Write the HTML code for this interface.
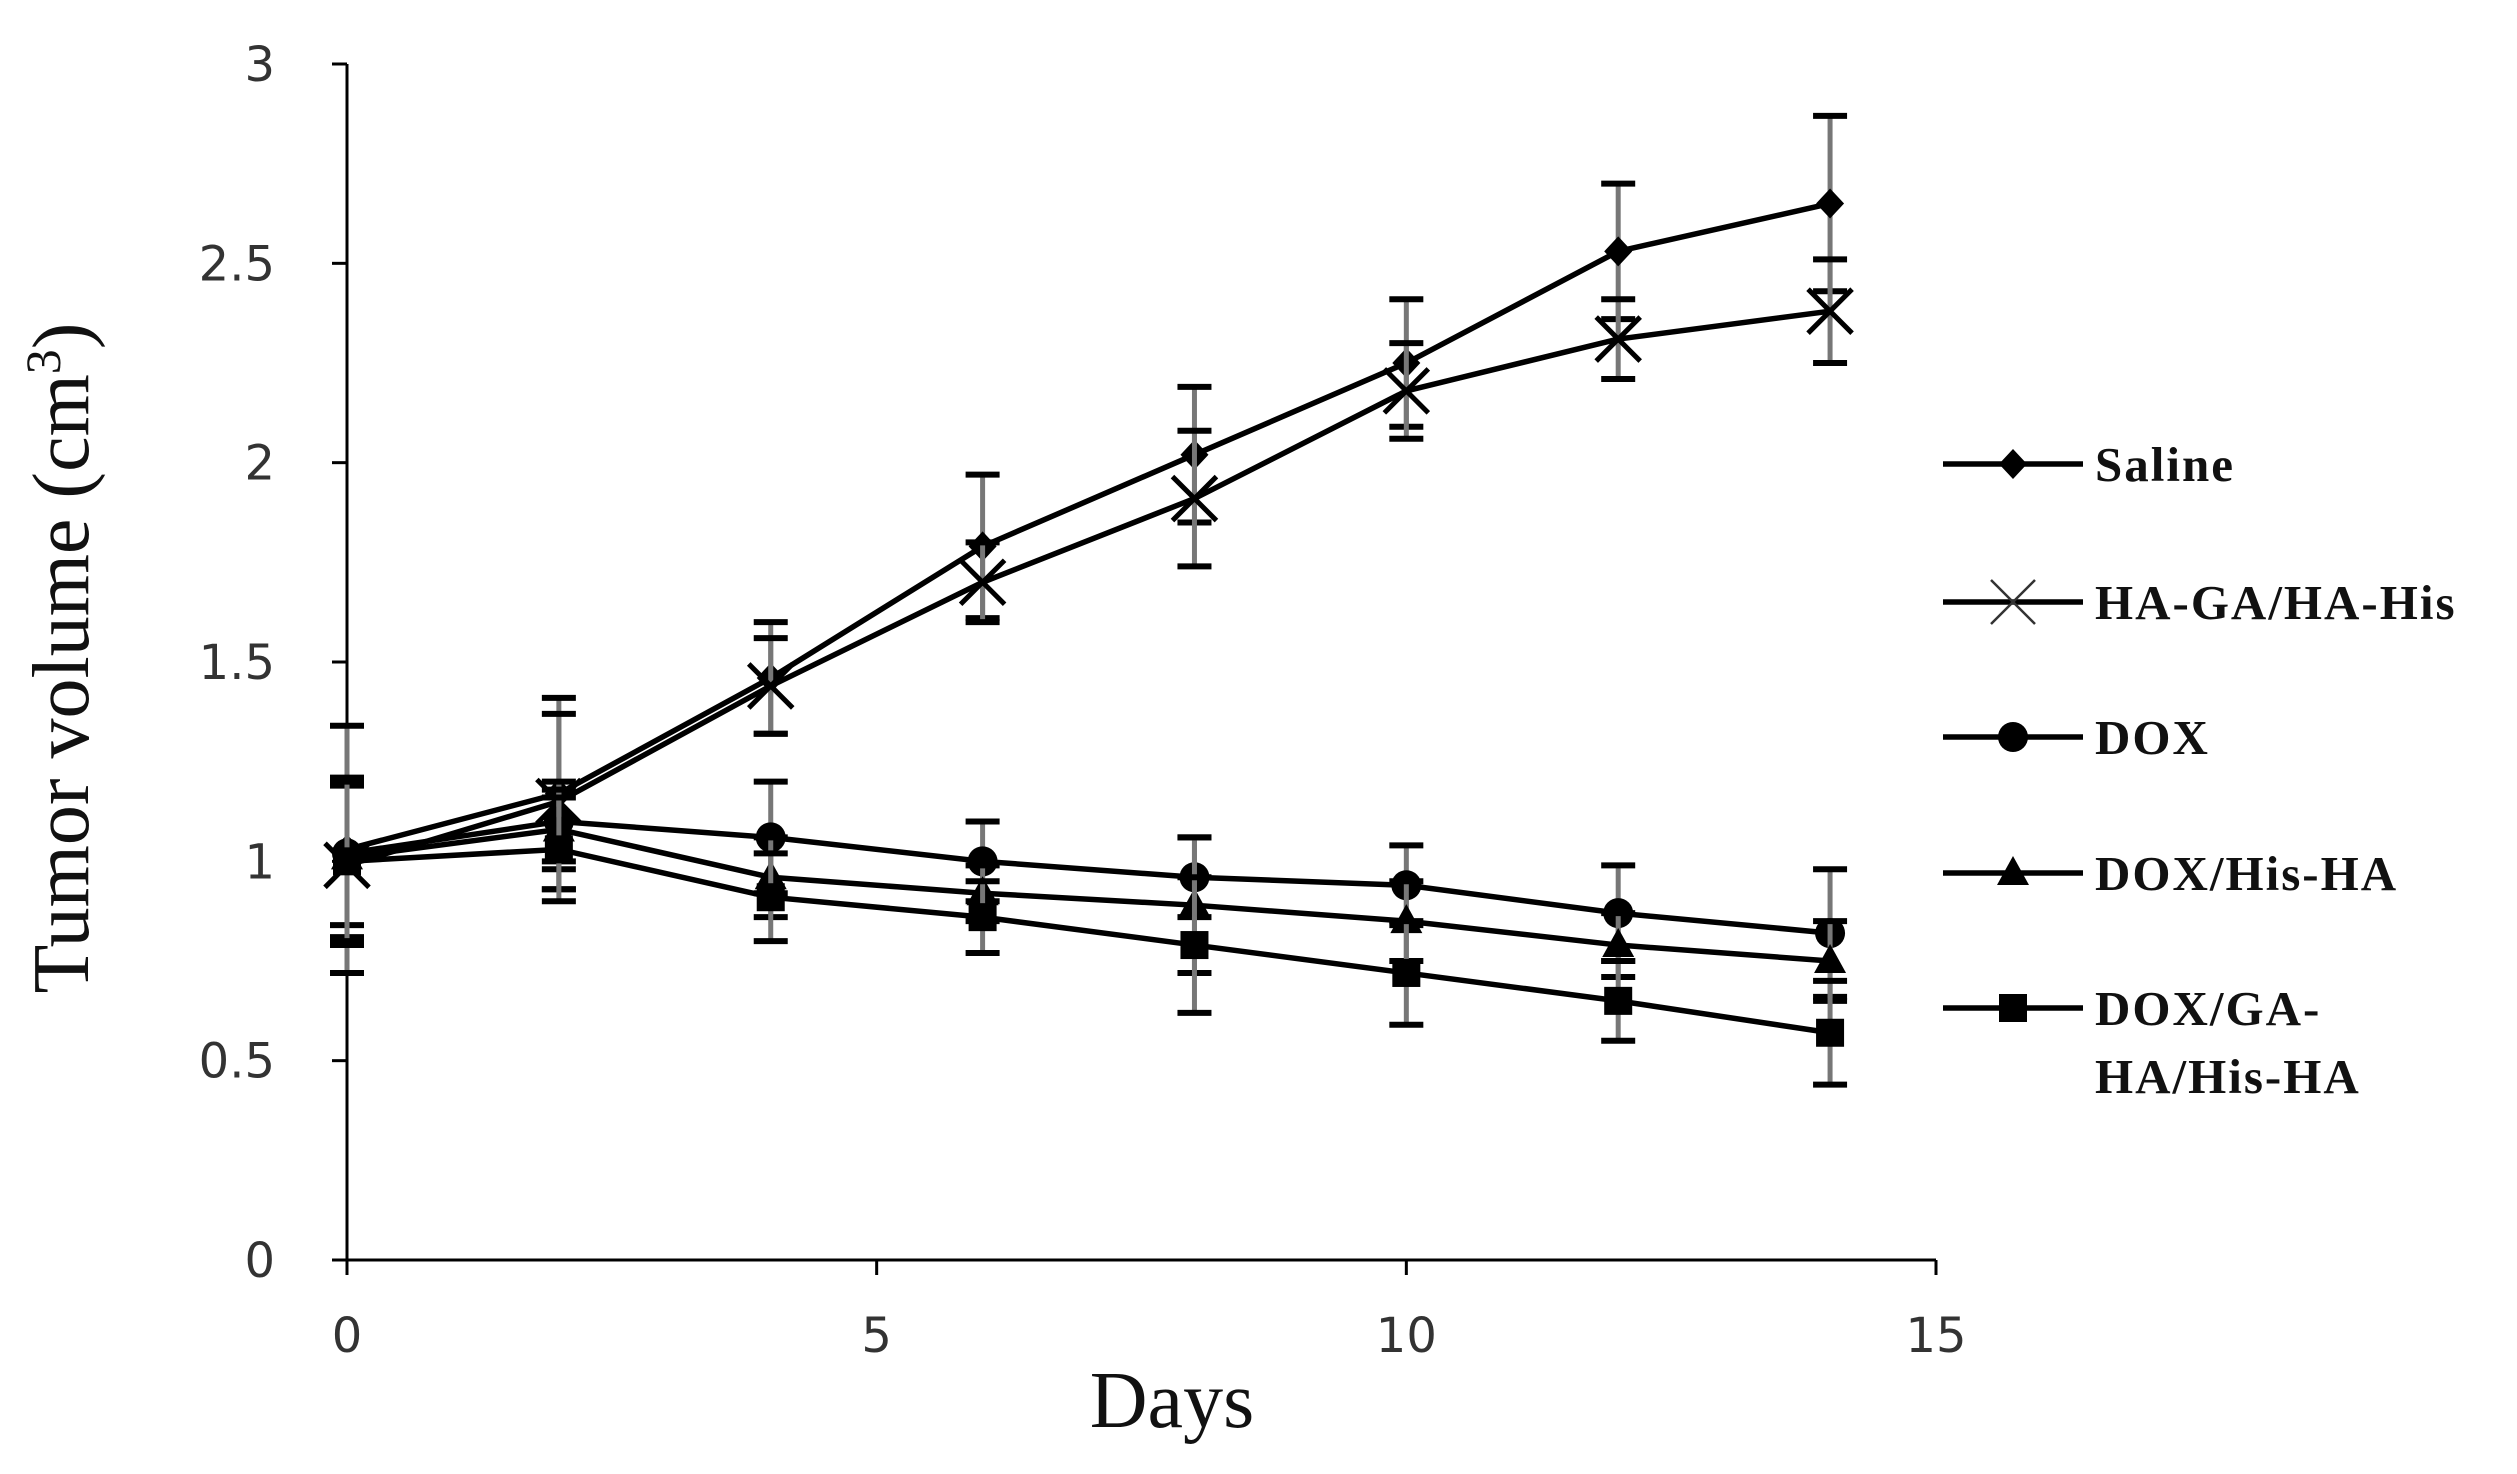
<!DOCTYPE html>
<html><head><meta charset="utf-8"><style>
html,body{margin:0;padding:0;background:#fff;}
svg{display:block;}
</style></head><body>
<svg id="chart" width="2517" height="1474" viewBox="0 0 2517 1474" xmlns="http://www.w3.org/2000/svg">
<g id="axes"></g>
<g id="series"></g>
<g id="legend"></g>
<text x="1172" y="1427" font-family="Liberation Serif, serif" font-size="80" text-anchor="middle" fill="#111">Days</text>
<text transform="translate(88,658) rotate(-90)" font-family="Liberation Serif, serif" font-size="80" text-anchor="middle" fill="#111">Tumor volume (cm<tspan font-size="50" dy="-28">3</tspan><tspan dy="28">)</tspan></text>
</svg>
<script>
const days = [0, 2, 4, 6, 8, 10, 12, 14];
const seriesNames = ["Saline", "HA-GA/HA-His", "DOX", "DOX/His-HA", "DOX/GA-HA/His-HA"];
const salineVals = [1.03, 1.17, 1.46, 1.79, 2.02, 2.25, 2.53, 2.65];
const salineErr = [0.31, 0.24, 0.14, 0.18, 0.17, 0.16, 0.17, 0.22];
const hagaVals = [0.99, 1.15, 1.44, 1.70, 1.91, 2.18, 2.31, 2.38];
const hagaErr = [0.2, 0.22, 0.12, 0.1, 0.17, 0.12, 0.1, 0.13];
const doxVals = [1.02, 1.10, 1.06, 1.00, 0.96, 0.94, 0.87, 0.82];
const doxErr = [0.18, 0.1, 0.14, 0.1, 0.1, 0.1, 0.12, 0.16];
const doxHisVals = [1.01, 1.08, 0.96, 0.92, 0.89, 0.85, 0.79, 0.75];
const doxHisErr = [0.2, 0.1, 0.1, 0.07, 0.17, 0.1, 0.08, 0.1];
const doxGaVals = [1.0, 1.03, 0.91, 0.86, 0.79, 0.72, 0.65, 0.57];
const doxGaErr = [0.2, 0.13, 0.11, 0.09, 0.17, 0.13, 0.1, 0.13];
const xTicks = [0, 5, 10, 15];
const yTicks = [0, 0.5, 1, 1.5, 2, 2.5, 3];
const yTickLabels = ["0", "0.5", "1", "1.5", "2", "2.5", "3"];

const NS = "http://www.w3.org/2000/svg";
const X0 = 347, X1 = 1936, Y0 = 1260, Y1 = 64;
function xs(v){ return X0 + (v - 0) / 15 * (X1 - X0); }
function ys(v){ return Y0 - v / 3 * (Y0 - Y1); }
function mk(tag, attrs, parent){ const e = document.createElementNS(NS, tag); for (const k in attrs) e.setAttribute(k, attrs[k]); parent.appendChild(e); return e; }

const axes = document.getElementById("axes");
let a = mk("line", {x1:X0, y1:Y1, x2:X0, y2:Y0, stroke:"#000", "stroke-width":3}, axes);


a = mk("line", {x1:X0, y1:Y0, x2:X1, y2:Y0, stroke:"#000", "stroke-width":3}, axes);


yTicks.forEach((t, i) => {
  const tk = mk("line", {x1:X0-15, y1:ys(t), x2:X0, y2:ys(t), stroke:"#000", "stroke-width":3}, axes);
  
  
  const tl = mk("text", {x:X0-72, y:ys(t)+17, "font-family":"DejaVu Sans, sans-serif", "font-size":48, "text-anchor":"end", fill:"#333"}, axes);
  tl.textContent = yTickLabels[i];
  
  
});
xTicks.forEach(t => {
  const tk = mk("line", {x1:xs(t), y1:Y0, x2:xs(t), y2:Y0+15, stroke:"#000", "stroke-width":3}, axes);
  
  
  const tl = mk("text", {x:xs(t), y:Y0+92, "font-family":"DejaVu Sans, sans-serif", "font-size":48, "text-anchor":"middle", fill:"#333"}, axes);
  tl.textContent = String(t);
  
  
});

function marker(type, x, y, g){
  let m;
  if (type === "diamond") m = mk("polygon", {points:`${x},${y-15} ${x+14},${y} ${x},${y+15} ${x-14},${y}`, fill:"#000"}, g);
  else if (type === "x") { m = mk("path", {d:`M${x-22},${y-22}L${x+22},${y+22}M${x-22},${y+22}L${x+22},${y-22}`, stroke:"#000", "stroke-width":5, fill:"none"}, g); }
  else if (type === "circle") m = mk("circle", {cx:x, cy:y, r:15, fill:"#000"}, g);
  else if (type === "triangle") m = mk("polygon", {points:`${x},${y-17} ${x+16},${y+12} ${x-16},${y+12}`, fill:"#000"}, g);
  else m = mk("rect", {x:x-14, y:y-14, width:28, height:28, fill:"#000"}, g);
  return m;
}

const seriesData = [
  [salineVals, salineErr, "diamond", "saline"],
  [hagaVals, hagaErr, "x", "ha-ga-ha-his"],
  [doxVals, doxErr, "circle", "dox"],
  [doxHisVals, doxHisErr, "triangle", "dox-his-ha"],
  [doxGaVals, doxGaErr, "square", "dox-ga-ha-his-ha"]
];
const sg = document.getElementById("series");
seriesData.forEach(([vals, errs, mt, nm]) => {
  const g = mk("g", {}, sg);
  
  
  vals.forEach((v, i) => {
    const x = xs(days[i]);
    const eb = mk("path", {d:`M${x},${ys(v+errs[i])}L${x},${ys(v-errs[i])}`, stroke:"#777", "stroke-width":5, fill:"none"}, g);
    
    
    const cp = mk("path", {d:`M${x-17},${ys(v+errs[i])}H${x+17}M${x-17},${ys(v-errs[i])}H${x+17}`, stroke:"#000", "stroke-width":6, fill:"none"}, g);
    
    
  });
  const pts = vals.map((v, i) => `${xs(days[i])},${ys(v)}`).join(" ");
  const ln = mk("polyline", {points:pts, stroke:"#000", "stroke-width":5.5, fill:"none"}, g);
  
  
  vals.forEach((v, i) => {
    const m = marker(mt, xs(days[i]), ys(v), g);
    
    
  });
});

const lg = document.getElementById("legend");
const legendY = [464, 602, 737, 873, 1008];
seriesData.forEach(([vals, errs, mt, nm], i) => {
  const g = mk("g", {}, lg);
  
  
  const y = legendY[i];
  mk("line", {x1:1943, y1:y, x2:2083, y2:y, stroke:"#000", "stroke-width":5.5}, g);
  const m = marker(mt, 2013, y, g);
  if (mt === "x") { m.setAttribute("stroke-width", "2.5"); m.setAttribute("stroke", "#333"); }
  const t = mk("text", {x:2095, y:y+17, "font-family":"Liberation Serif, serif", "font-size":49, "font-weight":"bold", "letter-spacing":"2", fill:"#111"}, g);
  if (i === 4) {
    t.textContent = "DOX/GA-";
    const t2 = mk("text", {x:2095, y:y+85, "font-family":"Liberation Serif, serif", "font-size":49, "font-weight":"bold", "letter-spacing":"2", fill:"#111"}, g);
    t2.textContent = "HA/His-HA";
  } else t.textContent = seriesNames[i];
});
</script>
</body></html>
